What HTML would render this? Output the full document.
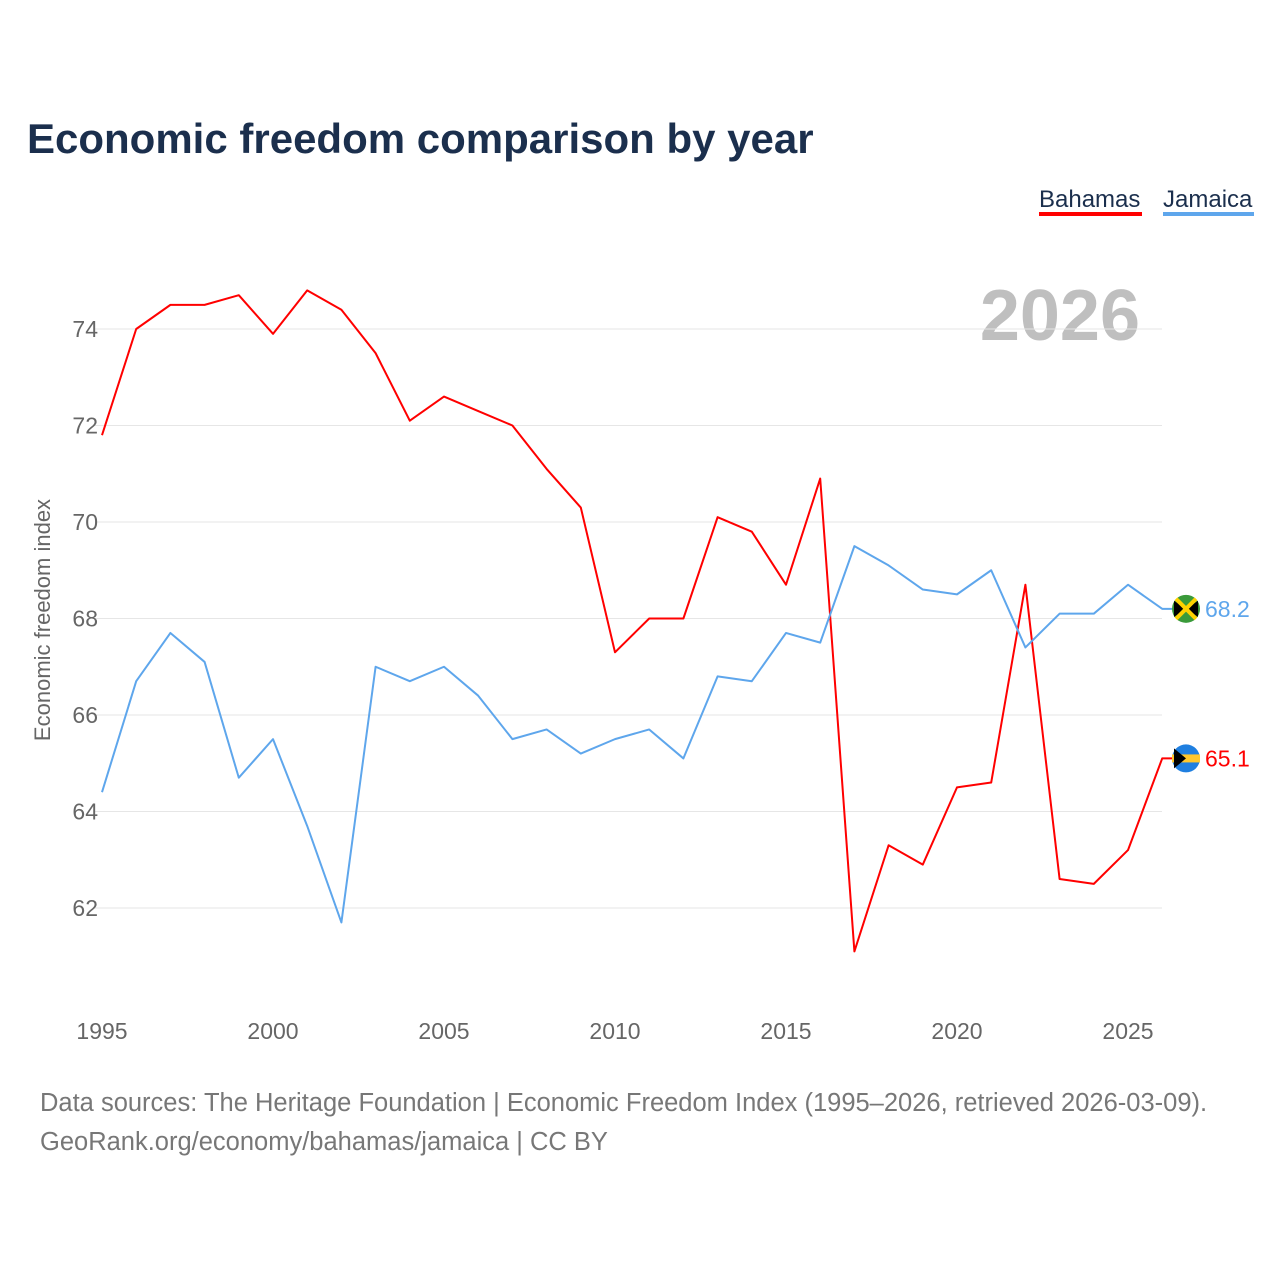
<!DOCTYPE html>
<html><head><meta charset="utf-8">
<style>
body{margin:0;background:#fff;font-family:"Liberation Sans",sans-serif;}
</style></head>
<body>
<svg id="chart" width="1280" height="1280" xmlns="http://www.w3.org/2000/svg" font-family="Liberation Sans, sans-serif">
<text x="27" y="153" font-size="42" font-weight="bold" fill="#1b2f4d">Economic freedom comparison by year</text>
<g><text x="1039" y="207" font-size="24" fill="#1b2f4d">Bahamas</text><rect x="1039" y="212" width="103" height="4" fill="#ff0000"/></g>
<g><text x="1163" y="207" font-size="24" fill="#1b2f4d">Jamaica</text><rect x="1163" y="212" width="91" height="4" fill="#5ea6ec"/></g>
<text x="1140" y="340" font-size="72" font-weight="bold" fill="#bfbfbf" text-anchor="end">2026</text>
<g id="grid"></g><g id="xt"></g>
<text transform="translate(50,620) rotate(-90)" font-size="22" fill="#666" text-anchor="middle">Economic freedom index</text>
<g id="lines"></g>
<text x="40" y="1111" font-size="25.5" fill="#777">Data sources: The Heritage Foundation | Economic Freedom Index (1995–2026, retrieved 2026-03-09).</text>
<text x="40" y="1150" font-size="25.5" fill="#777">GeoRank.org/economy/bahamas/jamaica | CC BY</text>
</svg>
<script>
const years=[1995,1996,1997,1998,1999,2000,2001,2002,2003,2004,2005,2006,2007,2008,2009,2010,2011,2012,2013,2014,2015,2016,2017,2018,2019,2020,2021,2022,2023,2024,2025,2026];
const bahamas=[71.8,74.0,74.5,74.5,74.7,73.9,74.8,74.4,73.5,72.1,72.6,72.3,72.0,71.1,70.3,67.3,68.0,68.0,70.1,69.8,68.7,70.9,61.1,63.3,62.9,64.5,64.6,68.7,62.6,62.5,63.2,65.1];
const jamaica=[64.4,66.7,67.7,67.1,64.7,65.5,63.7,61.7,67.0,66.7,67.0,66.4,65.5,65.7,65.2,65.5,65.7,65.1,66.8,66.7,67.7,67.5,69.5,69.1,68.6,68.5,69.0,67.4,68.1,68.1,68.7,68.2];
const yTicks=[62,64,66,68,70,72,74];
const xTicks=[1995,2000,2005,2010,2015,2020,2025];
const NS="http://www.w3.org/2000/svg";
const X=y=>102+(y-1995)*34.2;
const Y=v=>329+(74-v)*48.25;
function mk(t,a,p){const e=document.createElementNS(NS,t);for(const k in a)e.setAttribute(k,a[k]);p.appendChild(e);return e;}
const grid=document.getElementById('grid');
yTicks.forEach(v=>{
 const l=mk('line',{x1:95,x2:1162,y1:Y(v),y2:Y(v),stroke:'#e6e6e6','stroke-width':1},grid);
 
 
 const t=mk('text',{x:98,y:Y(v)+8,'font-size':23,fill:'#666','text-anchor':'end'},grid);
 
 
 t.textContent=v;
});
const xt=document.getElementById('xt');
xTicks.forEach(v=>{
 const t=mk('text',{x:X(v),y:1039,'font-size':23,fill:'#666','text-anchor':'middle'},xt);
 
 
 t.textContent=v;
});
const lines=document.getElementById('lines');
function series(vals,color,name,flag){
 const pts=vals.map((v,i)=>X(years[i])+','+Y(v));
 const last=vals[vals.length-1],cy=Y(last);
 pts.push('1172,'+cy);
 const p=mk('polyline',{points:pts.join(' '),fill:'none',stroke:color,'stroke-width':2,'stroke-linejoin':'round'},lines);
 
 
 const c=mk('circle',{cx:1186,cy:cy,r:14,fill:flag},lines);
 
 
 const t=mk('text',{x:1205,y:cy+8,'font-size':23,fill:color},lines);
 
 
 t.textContent=last.toFixed(1);
 return cy;
}
const cb=series(bahamas,'#ff0000','bahamas','#1f7fe0');
const cj=series(jamaica,'#5ea6ec','jamaica','#3a9a3a');
mk('rect',{x:1172,y:cb-4,width:28,height:8,fill:'#ffc72c'},lines);
mk('polygon',{points:`1174,${cb-10} 1186,${cb} 1174,${cb+10}`,fill:'#000'},lines);
mk('polygon',{points:`1174,${cj-8} 1186,${cj} 1174,${cj+8}`,fill:'#000'},lines);
mk('polygon',{points:`1198,${cj-8} 1186,${cj} 1198,${cj+8}`,fill:'#000'},lines);
mk('line',{x1:1176,y1:cj-10,x2:1196,y2:cj+10,stroke:'#fed100','stroke-width':4},lines);
mk('line',{x1:1196,y1:cj-10,x2:1176,y2:cj+10,stroke:'#fed100','stroke-width':4},lines);
</script>
</body></html>
